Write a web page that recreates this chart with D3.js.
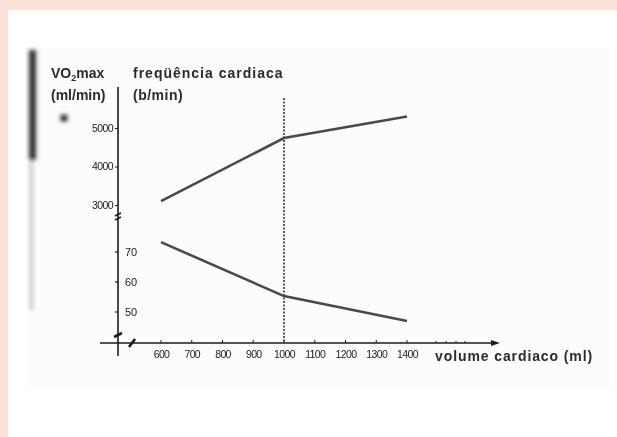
<!DOCTYPE html>
<html><head><meta charset="utf-8">
<script src="https://cdn.jsdelivr.net/npm/d3@7"></script>
<style>html,body{margin:0;padding:0;background:#fde2da;}svg{display:block;}</style>
</head><body>
<script>
// Data
const volumes = [600, 1000, 1400];           // volume cardiaco (ml)
const vo2max = [3100, 4740, 5300];           // VO2max (ml/min)
const heartRate = [73.3, 55.3, 47];          // frequência cardiaca (b/min)
const xTicks = [600,700,800,900,1000,1100,1200,1300,1400];
const vo2Ticks = [3000,4000,5000];
const hrTicks = [50,60,70];
const markerVolume = 1000;

const W = 617, H = 437;
const svg = d3.select("body").append("svg").attr("width", W).attr("height", H);
const defs = svg.append("defs");
defs.append("filter").attr("id","soft").append("feGaussianBlur").attr("stdDeviation",0.6);
defs.append("filter").attr("id","smear").append("feGaussianBlur").attr("stdDeviation",2.2);

// backgrounds
svg.append("rect").attr("x",0).attr("y",0).attr("width",W).attr("height",H).attr("fill","#fde2da");
svg.append("rect").attr("x",8).attr("y",10).attr("width",W-8).attr("height",H-10).attr("fill","#ffffff");
svg.append("rect").attr("x",28).attr("y",48).attr("width",582).attr("height",340).attr("fill","#fcfcfc");
// scan smear on left edge
const sm = svg.append("g").attr("filter","url(#smear)");
sm.append("rect").attr("x",29).attr("y",50).attr("width",7).attr("height",110).attr("fill","#333");
sm.append("rect").attr("x",30).attr("y",160).attr("width",3).attr("height",150).attr("fill","#bbb");
sm.append("circle").attr("cx",64).attr("cy",118).attr("r",3.5).attr("fill","#111");

const x = d3.scaleLinear().domain([600,1400]).range([161,407]);
const yV = d3.scaleLinear().domain([3000,5000]).range([205,128]);
const yH = d3.scaleLinear().domain([50,70]).range([312,252]);

const axisX = 118, axisY = 343;
const ink = "#1e1e1e";
const g = svg.append("g").attr("filter","url(#soft)");

// y axis line
g.append("line").attr("x1",axisX).attr("x2",axisX).attr("y1",87).attr("y2",356).attr("stroke",ink).attr("stroke-width",1.6);
// x axis line
g.append("line").attr("x1",100).attr("x2",494).attr("y1",axisY).attr("y2",axisY).attr("stroke",ink).attr("stroke-width",1.6);
g.append("path").attr("d",`M${500},${axisY} l-9,-3 l0,6 z`).attr("fill",ink);
// minor dashes beyond 1400
[436,446,456,465].forEach(v=>g.append("line").attr("x1",v).attr("x2",v).attr("y1",axisY).attr("y2",axisY-2).attr("stroke",ink).attr("stroke-width",1));

// break marks
g.append("path").attr("d",`M${axisX-3},${216} l6,-3 M${axisX-3},${220} l6,-3`).attr("stroke",ink).attr("stroke-width",1.4).attr("fill","none");
g.append("path").attr("d",`M${axisX-4},${337} l8,-4`).attr("stroke",ink).attr("stroke-width",2.6);
g.append("path").attr("d",`M${129},${347} l6,-8`).attr("stroke",ink).attr("stroke-width",2.6);

const tickFont = "Liberation Sans, Arial, sans-serif";
// x axis ticks and labels
const xAxis = d3.axisBottom(x).tickValues(xTicks).tickSize(0).tickPadding(0).tickFormat(d3.format("d"));
const xa = g.append("g").attr("transform",`translate(0,${axisY})`).call(xAxis);
xa.select(".domain").remove();
xa.selectAll("text").attr("y",12).attr("dy","0.32em").attr("font-family",tickFont).attr("font-size",10.5).attr("fill","#222").attr("letter-spacing","-0.6px");
xTicks.forEach(v=>g.append("line").attr("x1",x(v)).attr("x2",x(v)).attr("y1",axisY).attr("y2",axisY-3).attr("stroke",ink).attr("stroke-width",1));

// VO2 axis (labels left)
const vAxis = d3.axisLeft(yV).tickValues(vo2Ticks).tickSize(3).tickPadding(2).tickFormat(d3.format("d"));
const va = g.append("g").attr("transform",`translate(${axisX},0)`).call(vAxis);
va.select(".domain").remove();
va.selectAll("line").attr("stroke",ink);
va.selectAll("text").attr("font-family",tickFont).attr("font-size",10.5).attr("fill","#222").attr("letter-spacing","-0.6px");

// heart rate axis (labels right, ticks left)
const hAxis = d3.axisRight(yH).tickValues(hrTicks).tickSize(0).tickPadding(7);
const ha = g.append("g").attr("transform",`translate(${axisX},0)`).call(hAxis);
ha.select(".domain").remove();
ha.selectAll("text").attr("font-family",tickFont).attr("font-size",11).attr("fill","#222");
hrTicks.forEach(v=>g.append("line").attr("x1",axisX-3).attr("x2",axisX).attr("y1",yH(v)).attr("y2",yH(v)).attr("stroke",ink).attr("stroke-width",1.2));

// dashed marker
g.append("line").attr("x1",x(markerVolume)).attr("x2",x(markerVolume)).attr("y1",98).attr("y2",axisY)
  .attr("stroke","#333").attr("stroke-width",1.6).attr("stroke-dasharray","2,1.5");

// data lines
const lineV = d3.line().x((d,i)=>x(volumes[i])).y(d=>yV(d));
const lineH = d3.line().x((d,i)=>x(volumes[i])).y(d=>yH(d));
g.append("path").attr("d",lineV(vo2max)).attr("fill","none").attr("stroke","#4a4a4a").attr("stroke-width",2.6);
g.append("path").attr("d",lineH(heartRate)).attr("fill","none").attr("stroke","#4a4a4a").attr("stroke-width",2.6);

// titles
const tf = "Liberation Sans, Arial, sans-serif";
function lab(t,xx,yy,size,ls){ return g.append("text").attr("x",xx).attr("y",yy).attr("font-family",tf).attr("font-weight","bold").attr("font-size",size).attr("fill","#2a2a2a").attr("letter-spacing",ls).text(t); }
const t1 = g.append("text").attr("x",51).attr("y",78).attr("font-family",tf).attr("font-weight","bold").attr("font-size",14).attr("fill","#2a2a2a");
t1.append("tspan").text("VO");
t1.append("tspan").attr("font-size",9).attr("dy",3).text("2");
t1.append("tspan").attr("dy",-3).text("max");
lab("(ml/min)",51,100,14,"0px");
lab("freqüência  cardiaca",133,78,14,"1px");
lab("(b/min)",133,100,14,"0.5px");
lab("volume   cardiaco (ml)",435,361,14,"0.9px");
</script>
</body></html>
